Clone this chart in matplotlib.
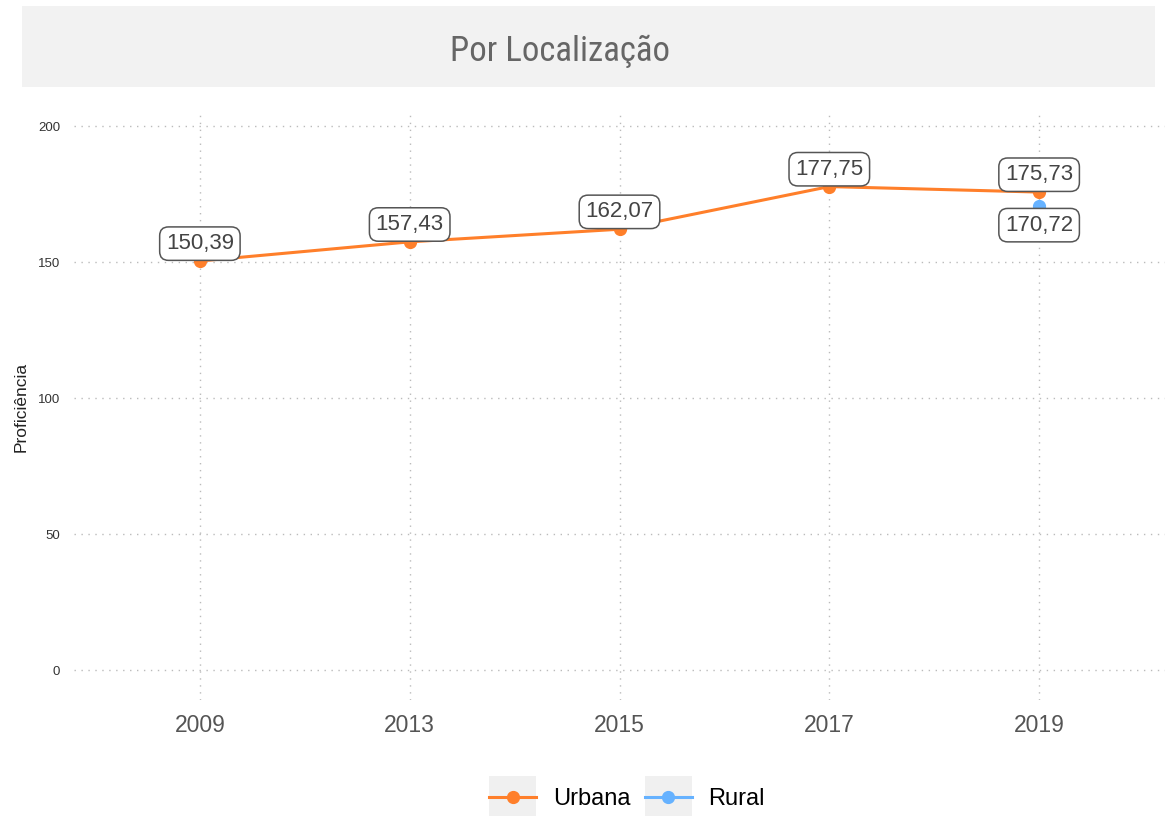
import numpy as np
import matplotlib
matplotlib.use("Agg")
import matplotlib.pyplot as plt
from matplotlib.patches import Rectangle
from matplotlib.legend_handler import HandlerLine2D

anos = ["2009", "2013", "2015", "2017", "2019"]
urbana = [150.39, 157.43, 162.07, 177.75, 175.73]
rural = [np.nan, np.nan, np.nan, np.nan, 170.72]
y_ticks = [0, 50, 100, 150, 200]

cor_urb = "#ff7f2a"
cor_rur = "#66b2ff"

plt.rcParams['font.family'] = ['Liberation Sans', 'DejaVu Sans']


class KeyHandler(HandlerLine2D):
  def create_artists(self, legend, orig_handle, xdescent, ydescent, width, height, fontsize, trans):
    bg = Rectangle((-xdescent, -ydescent - 0.6 * height), width, 2.2 * height,
                   facecolor="#f0f0f0", edgecolor="none", transform=trans)
    arts = super().create_artists(legend, orig_handle, xdescent, ydescent, width, height, fontsize, trans)
    return [bg] + list(arts)


def fmt(v):
  return ("%.2f" % v).replace(".", ",")


fig = plt.figure(figsize=(11.75, 8.16), dpi=100)
ax = fig.add_axes([74 / 1175, 1 - 700 / 816, (1165 - 74) / 1175, (700 - 113) / 816])

x = np.arange(len(anos))
ax.plot(x, urbana, color=cor_urb, lw=2.2, marker="o", ms=8.5, label="Urbana", zorder=3)
ax.plot(x, rural, color=cor_rur, lw=2.2, marker="o", ms=8.5, label="Rural", zorder=2)

box = dict(boxstyle="round,pad=0.28,rounding_size=0.4", fc="white", ec="#555555", lw=1.1)
for xi, v in zip(x, urbana):
  ax.annotate(fmt(v), (xi, v), xytext=(0, 12.5), textcoords="offset points",
              ha="center", va="center", fontsize=16, color="#444444", bbox=box, zorder=5)
for xi, v in zip(x, rural):
  if not np.isnan(v):
    ax.annotate(fmt(v), (xi, v), xytext=(0, -14), textcoords="offset points",
                ha="center", va="center", fontsize=16, color="#444444", bbox=box, zorder=5)

ax.set_xlim(-0.6, 4.6)
ax.set_ylim(-11, 204.8)
ax.set_xticks(x)
ax.set_xticklabels(anos, fontsize=16.5, color="#555555")
ax.set_yticks(y_ticks)
ax.set_yticklabels([str(t) for t in y_ticks], fontsize=9.5, color="#333333")
ax.tick_params(length=0)
ax.tick_params(axis="x", pad=10)
ax.tick_params(axis="y", pad=10)
ax.grid(True, linestyle=(0, (1, 4)), color="#bbbbbb", lw=1)
for s in ax.spines.values():
  s.set_visible(False)
ax.set_ylabel("Proficiência", fontsize=12.5, color="#222222", labelpad=7)

# title strip
fig.add_artist(Rectangle((22 / 1175, 1 - 87 / 816), (1155 - 22) / 1175, 81 / 816,
                         transform=fig.transFigure, facecolor="#f2f2f2", edgecolor="none"))
fig.text(560 / 1175, 1 - 51 / 816, "Por Localização", ha="center", va="center",
         fontsize=25, color="#666666",
         family=['Liberation Sans Narrow', 'Roboto Condensed', 'DejaVu Sans'])

h = ax.get_legend_handles_labels()[0]
fig.legend(h, ["Urbana", "Rural"], loc="center", bbox_to_anchor=(627 / 1175, 1 - 799 / 816),
           ncol=2, frameon=False, fontsize=17, handlelength=2.0, handleheight=0.9,
           handletextpad=0.7, columnspacing=0.6, numpoints=1,
           handler_map={plt.Line2D: KeyHandler()})

fig.savefig("out.png", dpi=100)
